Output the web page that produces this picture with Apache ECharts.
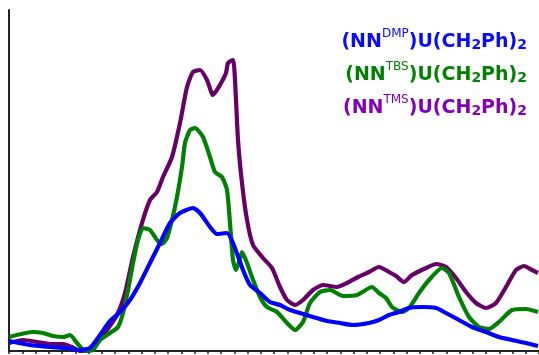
<!DOCTYPE html>
<html>
<head>
<meta charset="utf-8">
<script src="https://cdn.jsdelivr.net/npm/echarts@6/dist/echarts.min.js"></script>
<style>html,body{margin:0;padding:0;background:#fff}#c{width:539px;height:355px}</style>
</head>
<body>
<div id="c"></div>
<script>
// arbitrary units: [x, intensity]
var dmp = [[0,10],[21,6],[41,4],[56,3],[71,1],[81,3],[91,16],[101,30],[111,39],[121,51],[131,68],[141,88],[151,108],[161,128],[171,138],[184,143],[191,138],[201,124],[208,117],[218,118],[224,108],[234,81],[241,66],[251,58],[261,49],[271,46],[281,41],[291,38],[304,34],[318,30],[331,28],[344,26],[360,28],[370,31],[380,36],[390,39],[400,43],[413,44],[427,43],[437,38],[450,31],[463,24],[477,19],[490,14],[503,11],[517,8],[529,5]];
var tbs = [[0,14],[24,19],[34,18],[44,15],[54,14],[61,16],[68,8],[76,0],[84,1],[91,11],[101,18],[109,24],[114,38],[119,61],[124,88],[129,111],[134,123],[141,121],[148,111],[153,107],[158,113],[163,131],[168,154],[173,184],[176,208],[181,221],[186,223],[194,214],[201,194],[206,179],[213,174],[218,161],[221,128],[224,91],[227,81],[230,89],[233,99],[238,88],[243,74],[251,54],[258,44],[268,39],[278,28],[286,21],[294,29],[301,48],[311,59],[321,61],[334,55],[348,56],[363,64],[370,58],[377,53],[383,44],[393,39],[400,43],[410,58],[420,71],[433,83],[440,78],[450,54],[460,34],[470,24],[480,22],[490,29],[503,41],[517,42],[529,39]];
var tms = [[0,8],[14,11],[28,9],[41,7],[54,7],[63,4],[71,0],[79,0],[88,8],[98,21],[108,36],[116,58],[124,94],[133,128],[141,151],[148,159],[154,174],[163,194],[171,228],[178,264],[184,279],[191,281],[198,271],[204,256],[211,266],[217,278],[219,288],[224,291],[226,271],[229,211],[233,168],[238,131],[244,106],[254,93],[263,83],[271,64],[278,51],[286,46],[294,51],[304,61],[314,66],[328,64],[338,68],[349,74],[360,79],[370,84],[380,79],[387,75],[395,69],[403,76],[417,83],[427,87],[437,84],[447,73],[457,59],[467,48],[477,43],[487,48],[497,64],[507,81],[515,85],[523,81],[529,78]];
var seriesNames = ['DMP','TBS','TMS'];
var seriesData = [dmp, tbs, tms];
var lineColors = ['#0000ff','#008000','#660066'];
var textColors = ['#0a0aff','#008000','#8200b4'];

var chart = echarts.init(document.getElementById('c'), null, {renderer:'canvas'});
var series = seriesData.map(function(d,i){
  return {type:'line', name:seriesNames[i], data:d, showSymbol:false, smooth:0.2,
    lineStyle:{color:lineColors[i], width:4.2}, z:3-i, animation:false};
});
var graphics = seriesNames.map(function(n,i){
  return {type:'text', right:12, top:28+i*33, style:{
    rich:{
      m:{fontFamily:'DejaVu Sans', fontWeight:'bold', fontSize:19, fill:textColors[i], verticalAlign:'bottom', lineHeight:24},
      sup:{fontFamily:'DejaVu Sans', fontSize:12, fill:textColors[i], verticalAlign:'top', lineHeight:24, padding:[0,0,9,0]},
      sub:{fontFamily:'DejaVu Sans', fontWeight:'bold', fontSize:14, fill:textColors[i], verticalAlign:'bottom', lineHeight:24}
    },
    text:'{m|(NN}{sup|'+n+'}{m|)U(CH}{sub|2}{m|Ph)}{sub|2}'
  }};
});
chart.setOption({
  animation:false,
  grid:{left:9, right:0, top:10, bottom:4, containLabel:false},
  xAxis:{type:'value', min:0, max:530, interval:13.25,
    axisLine:{lineStyle:{color:'#222', width:2}},
    axisTick:{show:true, inside:false, length:3, lineStyle:{color:'#222', width:1.5}},
    axisLabel:{show:false}, splitLine:{show:false}},
  yAxis:{type:'value', min:0, max:341,
    axisLine:{show:true, lineStyle:{color:'#222', width:2}},
    axisTick:{show:false}, axisLabel:{show:false}, splitLine:{show:false}},
  series:series,
  graphic:graphics
});
</script>
</body>
</html>
